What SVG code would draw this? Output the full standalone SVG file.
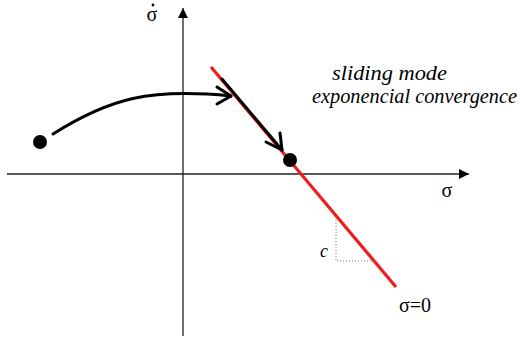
<svg xmlns="http://www.w3.org/2000/svg" width="519" height="343" viewBox="0 0 519 343">
<defs>
<marker id="tri" markerWidth="10" markerHeight="10" refX="10" refY="5" orient="auto" markerUnits="userSpaceOnUse">
<path d="M0,0 L10,5 L0,10 z" fill="#000"/>
</marker>
<style>
.ax{stroke:#222;stroke-width:1.3;fill:none}
.lbl{fill:#000}
.it{font-style:italic}
.traj{stroke:#000;stroke-width:3;fill:none;stroke-linecap:round;stroke-linejoin:round}
</style>
</defs>
<g id="connectors">
<line class="ax" x1="7" y1="174" x2="469" y2="174" marker-end="url(#tri)"/>
<line class="ax" x1="183" y1="336" x2="183" y2="8" marker-end="url(#tri)"/>
<line x1="211" y1="67" x2="396" y2="287" stroke="#f01c1c" stroke-width="3.2"/>
<polyline points="336,220 336,261 372,261" fill="none" stroke="#777" stroke-width="1" stroke-dasharray="1,2"/>
<path class="traj" d="M53,134 C110,98 150,88 231,96"/>
<polyline class="traj" points="217,87 231,96 217,104"/>
<line class="traj" x1="222" y1="79" x2="282" y2="150"/>
<polyline class="traj" points="266,142 282,150 280,133"/>
</g>
<g id="start"><circle cx="40" cy="142" r="7" fill="#000"/></g>
<g id="eq"><circle cx="290" cy="160" r="7" fill="#000"/></g>
<g id="labels" font-family="'Liberation Serif', 'DejaVu Serif', serif">
<text class="lbl" x="152" y="21" font-size="20" text-anchor="middle">σ</text>
<circle cx="153" cy="5" r="1.4" fill="#000"/>
<text class="lbl" x="447" y="197" font-size="20" text-anchor="middle">σ</text>
<text class="lbl it" x="332" y="80" font-size="20" textLength="115" lengthAdjust="spacingAndGlyphs">sliding mode</text>
<text class="lbl it" x="312" y="103" font-size="20" textLength="205" lengthAdjust="spacingAndGlyphs">exponencial convergence</text>
<text class="lbl it" x="324" y="257" font-size="18" text-anchor="middle">c</text>
<text class="lbl" x="415" y="312" font-size="20" text-anchor="middle">σ=0</text>
</g>
</svg>
